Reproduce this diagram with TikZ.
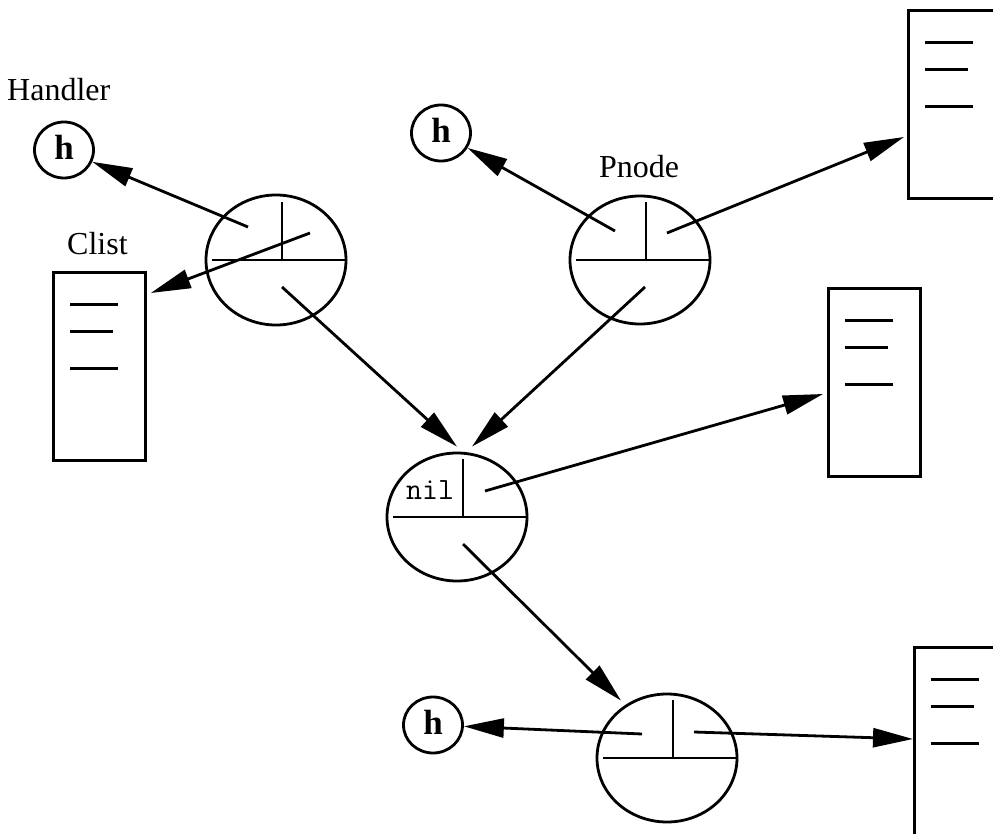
\documentclass[tikz,border=0pt]{standalone}
\usepackage{fontspec}
\setmainfont{Liberation Serif}
\usetikzlibrary{arrows.meta,shapes.geometric,calc}

\tikzset{
  pen/.style={line width=2.8pt, line cap=butt},
  % a list cell: ellipse split by a horizontal rule with a short upright divider
  cell/.style={ellipse, draw, pen, minimum width=140pt, minimum height=128pt, inner sep=0pt,
    path picture={
      \draw[pen] ([xshift=-64pt]path picture bounding box.center)
              -- ([xshift=69pt]path picture bounding box.center);
      \draw[pen] ([xshift=6pt]path picture bounding box.center)
              -- ([xshift=6pt,yshift=58pt]path picture bounding box.center);
    }},
  hcirc/.style={ellipse, draw, pen, minimum width=59pt, minimum height=56pt, inner sep=0pt,
    text depth=6pt, font=\fontsize{35}{35}\selectfont\bfseries},
  % a list box with three entry strokes near its top
  listbox/.style={rectangle, draw, pen, minimum width=92pt, minimum height=188pt,
    inner sep=0pt, anchor=north west,
    path picture={
      \draw[pen] ([xshift=17pt,yshift=-32pt]path picture bounding box.north west) -- ++(48pt,0pt);
      \draw[pen] ([xshift=17pt,yshift=-59pt]path picture bounding box.north west) -- ++(43pt,0pt);
      \draw[pen] ([xshift=17pt,yshift=-96pt]path picture bounding box.north west) -- ++(48pt,0pt);
    }},
  link/.style={pen, -{Triangle[length=40pt,width=19pt]}},
  lbl/.style={anchor=base west, inner sep=0pt, font=\fontsize{32}{32}\selectfont},
}

\begin{document}
\begin{tikzpicture}[x=1pt,y=-1pt]
  \useasboundingbox (0,0) rectangle (993,834);
  \fill[white] (0,0) rectangle (993,834);
  \clip (0,0) rectangle (993,834);

  % labels
  \node[lbl] (handlerlbl) at (7,101) {Handler};
  \node[lbl] (clistlbl) at (67,255) {Clist};
  \node[lbl] (pnodelbl) at (599,178) {Pnode};

  % handler circles
  \node[hcirc] (h1) at (64,150) {h};
  \node[hcirc] (h2) at (441,133) {h};
  \node[hcirc] (h3) at (433,725) {h};

  % list boxes
  \node[listbox] (clist) at (52,271) {};
  \node[listbox] (boxtr) at (907,9) {};
  \node[listbox] (boxmid) at (827,287) {};
  \node[listbox] (boxbr) at (913,646) {};

  % cells
  \node[cell, minimum height=130pt] (c1) at (276,260) {};
  \node[cell] (pn) at (640,260) {};
  \node[cell] (nil) at (457,517) {};
  \node[cell] (c4) at (667,758) {};
  \node[anchor=base west, inner sep=0pt, font=\ttfamily\fontsize{31}{31}\selectfont]
    (niltext) at (406,499) {nil};

  % connector starts inside the cells
  \coordinate (c1h)  at ($(c1)+(-28,-33)$);
  \coordinate (c1l)  at ($(c1)+(34,-27)$);
  \coordinate (c1d)  at ($(c1)+(6,27)$);
  \coordinate (pnh)  at ($(pn)+(-25,-29)$);
  \coordinate (pnl)  at ($(pn)+(27,-27)$);
  \coordinate (pnd)  at ($(pn)+(5,27)$);
  \coordinate (nill) at ($(nil)+(28,-26)$);
  \coordinate (nild) at ($(nil)+(6,27)$);
  \coordinate (c4h)  at ($(c4)+(-25,-24)$);
  \coordinate (c4l)  at ($(c4)+(27,-26)$);

  % connector ends
  \coordinate (clistin) at ($(clist.north east)+(4,22)$);
  \coordinate (boxtrin) at ($(boxtr.north west)+(-3,128)$);
  \coordinate (boxmidin) at ($(boxmid.north west)+(-4,107)$);
  \coordinate (boxbrin) at ($(boxbr.north west)+(0,93)$);
  \coordinate (nilinl) at ($(nil.north)+(0,-5)$);
  \coordinate (nilinr) at ($(nil.north)+(15,-5)$);
  \coordinate (c4in) at ($(c4.north)+(-46,8)$);

  % connectors
  \draw[link] (c1h) -- (h1);
  \draw[link] (c1l) -- (clistin);
  \draw[link] (c1d) -- (nilinl);
  \draw[link] (pnh) -- (h2);
  \draw[link] (pnl) -- (boxtrin);
  \draw[link] (pnd) -- (nilinr);
  \draw[link] (nill) -- (boxmidin);
  \draw[link] (nild) -- (c4in);
  \draw[link] (c4h) -- (h3);
  \draw[link] (c4l) -- (boxbrin);
\end{tikzpicture}
\end{document}
